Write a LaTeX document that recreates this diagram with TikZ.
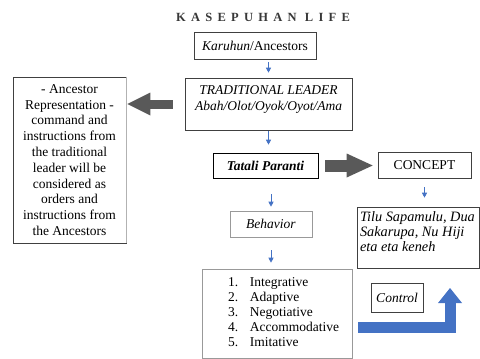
\documentclass[tikz,border=0pt]{standalone}
\usepackage{fontspec}
\setmainfont{Liberation Serif}
\newfontfamily\titlefont[LetterSpace=42]{Liberation Serif}
\usepackage{xcolor}
\usepackage{tikz}
\usetikzlibrary{arrows.meta,positioning}
\definecolor{KasBlue}{HTML}{4472C4}
\definecolor{KasGray}{HTML}{595959}
\definecolor{KasTitle}{HTML}{383838}

\begin{document}
\begin{tikzpicture}[x=1pt,y=-1pt,
  box/.style={draw=black!75,line width=.6pt,inner sep=0pt,align=center,font=\fontsize{13.5}{15.8}\selectfont},
  lightbox/.style={box,draw=black!40},
  down/.style={KasBlue,line width=.7pt,-{Triangle[width=5pt,length=5pt]}},
  bigarrow/.style={KasGray,line cap=butt}]
\useasboundingbox (0,0) rectangle (480,359);
\node[font=\titlefont\bfseries\fontsize{12.5}{14}\selectfont,text=KasTitle] (title) at (263,17) {KASEPUHAN LIFE};
\node[box,minimum width=122pt,minimum height=27pt] (karuhun) at (255,45.5) {\textit{Karuhun}/Ancestors};
\node[box,minimum width=167pt,minimum height=52pt] (leader) at (268.5,104)
  {\parbox[c][52pt][t]{167pt}{\centering\vspace*{8pt}\textit{TRADITIONAL LEADER}\\\textit{Abah/Olot/Oyok/Oyot/Ama}}};
\node[box,minimum width=113pt,minimum height=166pt] (ancestor) at (69.5,160)
  {- Ancestor\\Representation -\\command and\\instructions from\\the traditional\\leader will be\\considered as\\orders and\\instructions from\\the Ancestors};
\draw[black!30,line width=.6pt] (ancestor.north east) -- (ancestor.south east);
\node[box,draw=black,minimum width=105pt,minimum height=25pt] (tatali) at (265.5,165.5) {\textbf{\textit{Tatali Paranti}}};
\node[box,minimum width=93pt,minimum height=26pt] (concept) at (424.5,165) {CONCEPT};
\node[lightbox,minimum width=82pt,minimum height=26pt] (behavior) at (271,224) {\textit{Behavior}};
\node[box,minimum width=122pt,minimum height=61pt] (tilu) at (418,237.5)
  {\parbox[c][61pt][t]{122pt}{\fontsize{14.3}{15}\selectfont\raggedright\leftskip=3pt\vspace*{5pt}\itshape Tilu Sapamulu, Dua\\Sakarupa, Nu Hiji\\eta eta keneh}};
\node[lightbox,minimum width=150pt,minimum height=89pt] (list) at (277,313.5)
  {\parbox[c][89pt][t]{150pt}{\raggedright\baselineskip=15pt\vspace*{9pt}%
   \hspace*{26pt}\makebox[22pt][l]{1.}Integrative\\
   \hspace*{26pt}\makebox[22pt][l]{2.}Adaptive\\
   \hspace*{26pt}\makebox[22pt][l]{3.}Negotiative\\
   \hspace*{26pt}\makebox[22pt][l]{4.}Accommodative\\
   \hspace*{26pt}\makebox[22pt][l]{5.}Imitative}};
\node[box,minimum width=52pt,minimum height=29pt] (control) at (397,297.5) {\textit{Control}};
% small blue arrows
\draw[down,shorten <=3pt,shorten >=5pt] (karuhun.south -| leader.north) -- (leader.north);
\draw[down,shorten <=1pt,shorten >=8pt] (leader.south) -- (leader.south |- tatali.north);
\draw[down,shorten <=16pt,shorten >=4pt] (tatali.south -| behavior.north) -- (behavior.north);
\draw[down,shorten <=13pt,shorten >=6pt] (behavior.south) -- (behavior.south |- list.north);
\draw[down,shorten <=9pt,shorten >=9pt] (concept.south) -- (concept.south |- tilu.north);
% block arrows
\draw[bigarrow,line width=12pt,shorten <=7pt,shorten >=5pt,-{Triangle[width=24pt,length=26pt,line width=0pt]}]
  (tatali.east) -- (tatali.east -| concept.west);
\draw[bigarrow,line width=9pt,shorten <=12pt,shorten >=1pt,-{Triangle[width=23pt,length=23pt,line width=0pt]}]
  (leader.west) -- (leader.west -| ancestor.east);
\coordinate (ctrlstart) at (358,327.5);
\coordinate (ctrlend) at (450,288);
\draw[KasBlue,line width=11pt,line join=miter,-{Triangle[width=24pt,length=15pt,line width=0pt]}]
  (ctrlstart) -| (ctrlend);
\end{tikzpicture}
\end{document}
